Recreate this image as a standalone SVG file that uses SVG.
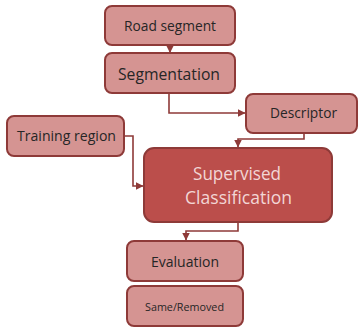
<svg xmlns="http://www.w3.org/2000/svg" width="359" height="328" viewBox="0 0 359 328">
<style>
.n{fill:#d59492;stroke:#8e3a38;stroke-width:2}
.big{fill:#bb4e4b;stroke:#8e3a38;stroke-width:2}
.t{font-family:"Open Sans","Noto Sans",sans-serif;fill:#262626;text-anchor:middle}
.tw{font-family:"Open Sans","Noto Sans",sans-serif;fill:#f2d6d5;text-anchor:middle}
.c{fill:none;stroke:#8e3a38;stroke-width:1.6}
</style>
<defs>
<marker id="ah" viewBox="0 0 10 10" refX="10" refY="5" markerWidth="5" markerHeight="5" orient="auto" markerUnits="strokeWidth">
<path d="M0,0 L10,5 L0,10 Z" fill="#8e3a38"/>
</marker>
</defs>
<rect width="359" height="328" fill="#ffffff"/>
<g id="connectors">
<path class="c" d="M170,45 V53" marker-end="url(#ah)"/>
<path class="c" d="M169,93 V113 H245.5" marker-end="url(#ah)"/>
<path class="c" d="M124,136 H133 V186 H143.5" marker-end="url(#ah)"/>
<path class="c" d="M304,133 V139 H238 V147.5" marker-end="url(#ah)"/>
<path class="c" d="M238,222 V231 H186 V240.5" marker-end="url(#ah)"/>
</g>
<g id="road-segment">
<rect class="n" x="105" y="6" width="130" height="39" rx="7"/>
<text class="t" x="170" y="31" font-size="14" textLength="92" lengthAdjust="spacingAndGlyphs">Road segment</text>
</g>
<g id="segmentation">
<rect class="n" x="105" y="53" width="130" height="40" rx="7"/>
<text class="t" x="169" y="80" font-size="16.5" textLength="102" lengthAdjust="spacingAndGlyphs">Segmentation</text>
</g>
<g id="descriptor">
<rect class="n" x="246" y="94" width="111" height="39" rx="7"/>
<text class="t" x="303.5" y="118" font-size="14" textLength="67" lengthAdjust="spacingAndGlyphs">Descriptor</text>
</g>
<g id="training-region">
<rect class="n" x="7" y="116" width="117" height="40" rx="7"/>
<text class="t" x="66.5" y="141" font-size="14.5" textLength="99" lengthAdjust="spacingAndGlyphs">Training region</text>
</g>
<g id="supervised-classification">
<rect class="big" x="144" y="148" width="188" height="74" rx="10"/>
<text class="tw" x="237" y="180" font-size="17.5" textLength="88" lengthAdjust="spacingAndGlyphs">Supervised</text>
<text class="tw" x="238.5" y="204" font-size="17.5" textLength="107" lengthAdjust="spacingAndGlyphs">Classification</text>
</g>
<g id="evaluation">
<rect class="n" x="127" y="241" width="116" height="40" rx="7"/>
<text class="t" x="185" y="267" font-size="15" textLength="68" lengthAdjust="spacingAndGlyphs">Evaluation</text>
</g>
<g id="same-removed">
<rect class="n" x="127" y="286" width="116" height="40" rx="7"/>
<text class="t" x="184.5" y="311" font-size="11.5" textLength="79" lengthAdjust="spacingAndGlyphs">Same/Removed</text>
</g>
</svg>
